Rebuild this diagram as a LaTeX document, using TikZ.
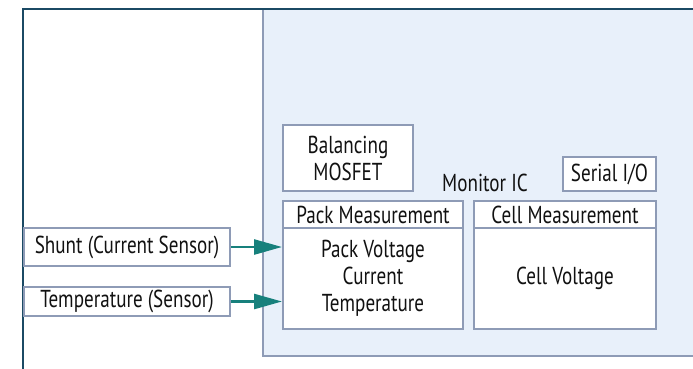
\documentclass[tikz,border=0pt]{standalone}
\usepackage{fontspec}
\setmainfont[FakeStretch=0.78]{PT Sans}
\usetikzlibrary{arrows.meta}

\definecolor{framecol}{HTML}{1B4A64}
\definecolor{panelfill}{HTML}{E8F0FA}
\definecolor{boxline}{HTML}{8E9BB6}
\definecolor{arrowcol}{HTML}{17807C}
\definecolor{textcol}{HTML}{111111}

\tikzset{
  blockbox/.style={rectangle,draw=boxline,line width=2pt,fill=white,inner sep=0pt,
    text=textcol,align=center,font=\fontsize{24.5}{27}\selectfont},
  sensorarrow/.style={draw=arrowcol,line width=2.6pt,-{Triangle[length=28pt,width=15pt]}}
}

\begin{document}
\begin{tikzpicture}[x=1pt,y=-1pt]
\useasboundingbox (0,0) rectangle (693,368);
\clip (0,0) rectangle (693,368);
\path[fill=panelfill,draw=boxline,line width=2.2pt] (263,9) rectangle (710,356);
\draw[framecol,line width=2.6pt] (23,380) -- (23,9) -- (710,9);
\node(balancing)[blockbox,minimum width=130pt,minimum height=66pt] at (348,158){Balancing\\MOSFET};
\node(serial)[blockbox,minimum width=93pt,minimum height=34pt] at (609.5,174){Serial I/O};
\node(monitor)[text=textcol,font=\fontsize{24.5}{27}\selectfont] at (485,183){Monitor IC};
\node(packhead)[blockbox,minimum width=180pt,minimum height=27pt] at (373,214.5){Pack Measurement};
\node(packbody)[blockbox,minimum width=180pt,minimum height=101pt] at (373,278.5){Pack Voltage\\Current\\Temperature};
\node(cellhead)[blockbox,minimum width=182pt,minimum height=27pt] at (565,214.5){Cell Measurement};
\node(cellbody)[blockbox,minimum width=182pt,minimum height=101pt] at (565,278.5){Cell Voltage};
\node(shunt)[blockbox,minimum width=206pt,minimum height=38pt] at (127,247){Shunt (Current Sensor)};
\node(temp)[blockbox,minimum width=206pt,minimum height=29pt] at (127,301.5){Temperature (Sensor)};
\path[sensorarrow] (shunt.east) -- (shunt.east -| packbody.west);
\path[sensorarrow] (temp.east) -- (temp.east -| packbody.west);
\end{tikzpicture}
\end{document}
